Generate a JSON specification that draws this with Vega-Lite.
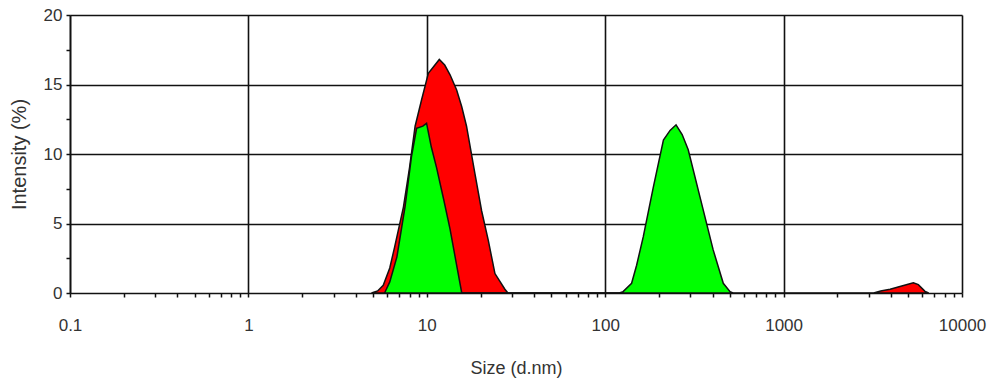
{
  "$schema": "https://vega.github.io/schema/vega-lite/v6.json",
  "width": 892,
  "height": 278,
  "autosize": {"type": "none"},
  "padding": {"left": 70, "top": 15, "right": 28, "bottom": 90},
  "background": "white",
  "config": {
    "view": {"stroke": null},
    "axis": {"labelFont": "Liberation Sans", "titleFont": "Liberation Sans", "labelColor": "#333", "titleColor": "#333", "titleFontWeight": "normal"}
  },
  "data": {
    "values": [
      {"series": "red", "size": 4.9, "intensity": 0},
      {"series": "red", "size": 5.3, "intensity": 0.15},
      {"series": "red", "size": 5.7, "intensity": 0.55},
      {"series": "red", "size": 6.2, "intensity": 1.8},
      {"series": "red", "size": 6.6, "intensity": 3.3},
      {"series": "red", "size": 7.4, "intensity": 6.2},
      {"series": "red", "size": 8.0, "intensity": 9.0},
      {"series": "red", "size": 8.6, "intensity": 12.0},
      {"series": "red", "size": 9.35, "intensity": 13.9},
      {"series": "red", "size": 10.2, "intensity": 15.8},
      {"series": "red", "size": 11.75, "intensity": 16.8},
      {"series": "red", "size": 12.6, "intensity": 16.4},
      {"series": "red", "size": 13.5, "intensity": 15.7},
      {"series": "red", "size": 14.7, "intensity": 14.6},
      {"series": "red", "size": 15.7, "intensity": 13.4},
      {"series": "red", "size": 16.7, "intensity": 12.0},
      {"series": "red", "size": 18.6, "intensity": 8.6},
      {"series": "red", "size": 20.3, "intensity": 5.9},
      {"series": "red", "size": 22.1, "intensity": 3.8},
      {"series": "red", "size": 24.1, "intensity": 1.4},
      {"series": "red", "size": 27.4, "intensity": 0.27},
      {"series": "red", "size": 28.5, "intensity": 0},
      {"series": "red", "size": 3200, "intensity": 0},
      {"series": "red", "size": 3500, "intensity": 0.15},
      {"series": "red", "size": 3955, "intensity": 0.27},
      {"series": "red", "size": 4595, "intensity": 0.5},
      {"series": "red", "size": 5335, "intensity": 0.74},
      {"series": "red", "size": 5690, "intensity": 0.6},
      {"series": "red", "size": 6205, "intensity": 0.12},
      {"series": "red", "size": 6500, "intensity": 0},
      {"series": "green", "size": 5.8, "intensity": 0},
      {"series": "green", "size": 6.2, "intensity": 0.8},
      {"series": "green", "size": 6.8, "intensity": 2.6},
      {"series": "green", "size": 7.55, "intensity": 6.2},
      {"series": "green", "size": 8.2, "intensity": 9.8},
      {"series": "green", "size": 8.77, "intensity": 11.85},
      {"series": "green", "size": 9.5, "intensity": 12.0},
      {"series": "green", "size": 9.97, "intensity": 12.2},
      {"series": "green", "size": 10.6, "intensity": 10.5},
      {"series": "green", "size": 11.35, "intensity": 9.0},
      {"series": "green", "size": 12.4, "intensity": 6.8},
      {"series": "green", "size": 13.5, "intensity": 4.6},
      {"series": "green", "size": 14.6, "intensity": 2.2},
      {"series": "green", "size": 15.7, "intensity": 0},
      {"series": "green", "size": 120, "intensity": 0},
      {"series": "green", "size": 126, "intensity": 0.1},
      {"series": "green", "size": 140.6, "intensity": 0.7},
      {"series": "green", "size": 150, "intensity": 2.0},
      {"series": "green", "size": 163.5, "intensity": 4.05},
      {"series": "green", "size": 186, "intensity": 7.6},
      {"series": "green", "size": 212, "intensity": 11.0},
      {"series": "green", "size": 231, "intensity": 11.7},
      {"series": "green", "size": 249.5, "intensity": 12.1},
      {"series": "green", "size": 270, "intensity": 11.4},
      {"series": "green", "size": 292, "intensity": 10.3},
      {"series": "green", "size": 340, "intensity": 6.9},
      {"series": "green", "size": 403, "intensity": 3.1},
      {"series": "green", "size": 459, "intensity": 0.7},
      {"series": "green", "size": 501, "intensity": 0.1},
      {"series": "green", "size": 520, "intensity": 0}
    ]
  },
  "encoding": {
    "x": {
      "field": "size", "type": "quantitative",
      "scale": {"type": "log", "domain": [0.1, 10000], "nice": false},
      "axis": {
        "title": "Size (d.nm)",
        "titleFontSize": 18,
        "titlePadding": 26,
        "values": [0.1,0.2,0.3,0.4,0.5,0.6,0.7,0.8,0.9,1,2,3,4,5,6,7,8,9,10,20,30,40,50,60,70,80,90,100,200,300,400,500,600,700,800,900,1000,2000,3000,4000,5000,6000,7000,8000,9000,10000],
        "format": "~g",
        "labelExpr": "abs(log(datum.value)/LN10 - round(log(datum.value)/LN10)) < 0.001 ? datum.label : ''",
        "labelFontSize": 17,
        "labelPadding": 20,
        "labelFlush": false,
        "labelOverlap": false,
        "grid": true,
        "gridColor": {"condition": {"test": "abs(log(datum.value)/LN10 - round(log(datum.value)/LN10)) < 0.001", "value": "#111"}, "value": "transparent"},
        "gridWidth": 1.6,
        "tickColor": "#111",
        "tickWidth": 1.5,
        "tickSize": 4,
        "domainColor": "#111",
        "domainWidth": 1.6
      }
    },
    "y": {
      "field": "intensity", "type": "quantitative",
      "scale": {"domain": [0, 20], "nice": false},
      "axis": {
        "title": "Intensity (%)",
        "titleFontSize": 20,
        "titlePadding": 14,
        "values": [0, 2.5, 5, 7.5, 10, 12.5, 15, 17.5, 20],
        "labelExpr": "datum.value % 5 === 0 ? datum.label : ''",
        "labelFontSize": 17,
        "labelPadding": 4,
        "grid": true,
        "gridColor": {"condition": {"test": "datum.value % 5 === 0 && datum.value > 0", "value": "#111"}, "value": "transparent"},
        "gridWidth": 1.6,
        "tickColor": "#111",
        "tickWidth": 1.5,
        "tickSize": 4,
        "domainColor": "#111",
        "domainWidth": 1.6
      }
    }
  },
  "layer": [
    {
      "transform": [{"filter": "datum.series === 'red'"}],
      "mark": {"type": "area", "color": "#ff0000", "stroke": "#111", "strokeWidth": 1.5, "opacity": 1}
    },
    {
      "transform": [{"filter": "datum.series === 'green'"}],
      "mark": {"type": "area", "color": "#00ff00", "stroke": "#111", "strokeWidth": 1.5, "opacity": 1}
    }
  ]
}
